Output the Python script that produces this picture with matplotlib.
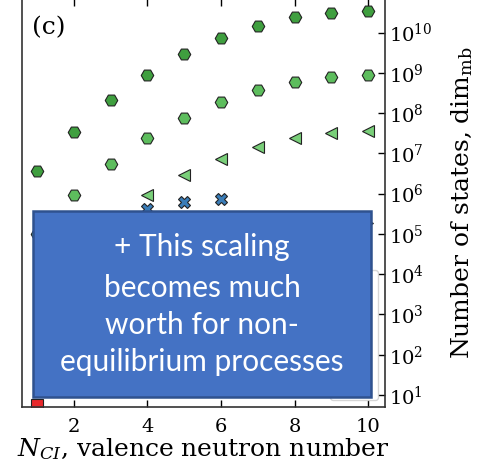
import matplotlib
matplotlib.use("Agg")
import matplotlib.pyplot as plt
from matplotlib.patches import Rectangle
import numpy as np

# ---- data ----
n_top = [1, 2, 3, 4, 5, 6, 7, 8, 9, 10]
dim_top = [3.6e6, 3.4e7, 2.1e8, 8.8e8, 2.9e9, 7.3e9, 1.45e10, 2.4e10, 3.1e10, 3.4e10]

n_mid = [1, 2, 3, 4, 5, 6, 7, 8, 9, 10]
dim_mid = [1.0e5, 9.2e5, 5.4e6, 2.4e7, 7.5e7, 1.9e8, 3.7e8, 5.9e8, 7.9e8, 8.8e8]

n_tri = [4, 5, 6, 7, 8, 9, 10]
dim_tri = [9.2e5, 2.9e6, 7.2e6, 1.4e7, 2.4e7, 3.2e7, 3.6e7]

n_x = [4, 5, 6]
dim_x = [4.2e5, 6.2e5, 7.4e5]

n_rtri = [10]
dim_rtri = [1.9e5]

n_sq = [1]
dim_sq = [5.6]

xticks = [2, 4, 6, 8, 10]
yticks = [10.0 ** k for k in range(1, 11)]

box_lines = ["+ This scaling", "becomes much", "worth for non-", "equilibrium processes"]

# ---- style ----
plt.rcParams['font.family'] = ['DejaVu Serif']
plt.rcParams['mathtext.fontset'] = 'dejavuserif'

W, H = 479, 469
fig = plt.figure(figsize=(W / 100, H / 100), dpi=100)
ax = fig.add_axes([21.5 / W, 1 - 407 / H, (384.5 - 21.5) / W, 408 / H])

ec = '#222222'
ax.plot(n_top, dim_top, 'H', ms=9, mfc='#3f9f3f', mec=ec, mew=0.8, ls='none', label=' ')
ax.plot(n_mid, dim_mid, 'H', ms=9, mfc='#5dbd5d', mec=ec, mew=0.8, ls='none', label=' ')
ax.plot(n_tri, dim_tri, '<', ms=9, mfc='#79cf79', mec=ec, mew=0.8, ls='none', label=' ')
ax.plot(n_x, dim_x, 'X', ms=9, mfc='#3a7db8', mec=ec, mew=0.8, ls='none', label=' ')
ax.plot(n_rtri, dim_rtri, '>', ms=7, mfc='#222222', mec=ec, mew=0.8, ls='none', label=' ')
ax.plot(n_sq, dim_sq, 's', ms=9, mfc='#e8282b', mec=ec, mew=0.8, ls='none', label=' ')

ax.set_yscale('log')
ax.set_xlim(0.58, 10.44)
ax.set_ylim(10 ** 0.703, 10 ** 10.832)
ax.set_xticks(xticks)
ax.set_xticklabels([str(t) for t in xticks])
ax.set_yticks(yticks)
ax.set_yticklabels([r'$10^{%d}$' % k for k in range(1, 11)])
ax.yaxis.tick_right()
ax.yaxis.set_label_position('right')
ax.tick_params(axis='both', which='both', direction='in', top=True, right=True, left=False)
ax.tick_params(axis='x', which='major', length=5, width=1, labelsize=14, pad=8)
ax.tick_params(axis='y', which='major', length=5, width=1, labelsize=14, pad=3)
ax.tick_params(axis='y', which='minor', length=3, width=0.8)
for s in ax.spines.values():
    s.set_linewidth(1.2)
    s.set_color('#333333')

ax.set_xlabel(r'$N_{CI}$, valence neutron number', fontsize=18, labelpad=0)
ax.set_ylabel(r'Number of states, dim$_{\rm mb}$', fontsize=18, labelpad=12)

ax.text(0.03, 0.93, '(c)', transform=ax.transAxes, fontsize=18, ha='left', va='center')

leg = ax.legend(loc='lower right', fontsize=10, frameon=True, borderaxespad=0.5,
                handlelength=1.5, labelspacing=0.5)
leg.get_frame().set_edgecolor('#cccccc')

# ---- overlay box ----
bx0, bx1 = 33 / W, 371 / W
by0, by1 = 1 - 397 / H, 1 - 211 / H
rect = Rectangle((bx0, by0), bx1 - bx0, by1 - by0, transform=fig.transFigure,
                 facecolor='#4472c4', edgecolor='#2f528f', linewidth=1.8, zorder=10)
fig.add_artist(rect)
cx = (bx0 + bx1) / 2
line_y = [247, 288, 325, 362]
for txt, yy in zip(box_lines, line_y):
    fig.text(cx, 1 - yy / H, txt, ha='center', va='center', color='white',
             fontsize=21.5, family=['Lato', 'DejaVu Sans'], zorder=11)

fig.savefig('out.png', dpi=100)
